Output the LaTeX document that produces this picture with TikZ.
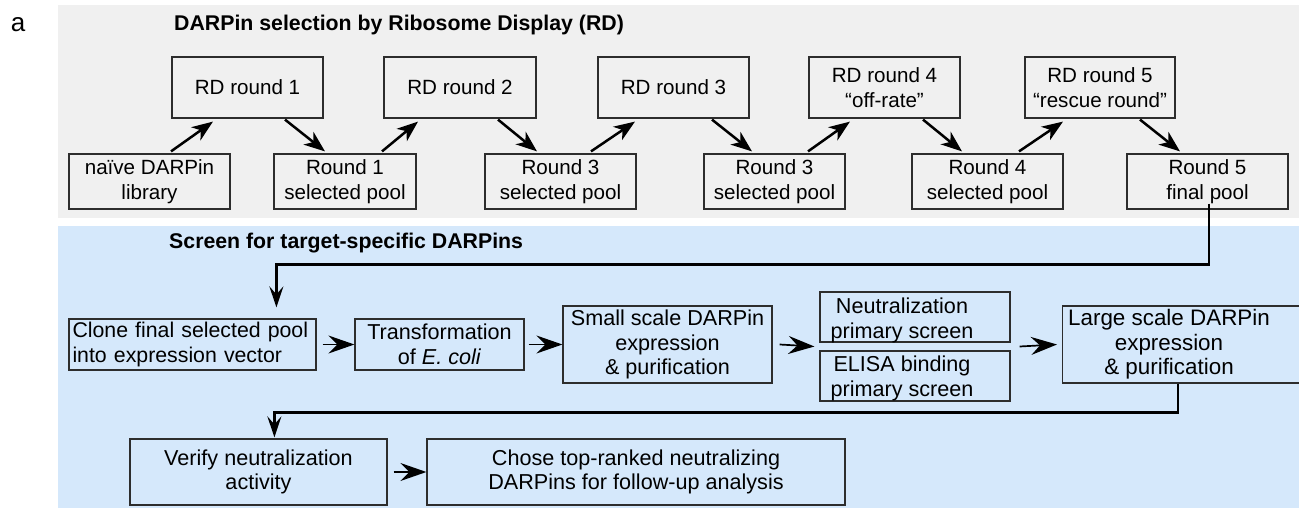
\documentclass[tikz,border=0pt]{standalone}
\usepackage{fontspec}
\setmainfont{Liberation Sans}
\usetikzlibrary{arrows.meta,calc}
\definecolor{panelgray}{RGB}{240,240,240}
\definecolor{panelblue}{RGB}{213,232,251}
\definecolor{boxline}{RGB}{45,45,45}

\begin{document}
\begin{tikzpicture}[x=1pt,y=-1pt,
  every node/.style={font=\fontsize{20.6}{24.5}\selectfont},
  lower/.style={font=\fontsize{21.6}{24.5}\selectfont},
  box/.style={draw=boxline, line width=1.2pt, inner sep=0pt, align=center},
  txt/.style={inner sep=0pt, align=center},
  heading/.style={font=\fontsize{21.3}{24.5}\selectfont\bfseries, anchor=west, inner sep=0pt},
  flow/.style={line width=2.5pt, -{Stealth[length=21pt,width=16pt,inset=6pt]}},
  hflow/.style={line width=1.7pt, -{Stealth[length=26pt,width=18pt,inset=9pt]}},
  elbow/.style={line width=2.4pt, -{Stealth[length=21pt,width=14pt,inset=8pt]}}
]
\useasboundingbox (0,0) rectangle (1299,508);

% panels
\fill[panelgray] (58,5) rectangle (1299,218);
\fill[panelblue] (58,226) rectangle (1299,508);

\node[font=\fontsize{26}{30}\selectfont] (panel) at (18,25) {a};
\node[heading] (seltitle) at (174,25) {DARPin selection by Ribosome Display (RD)};
\node[heading] (scrtitle) at (169,243) {Screen for target-specific DARPins};

% ribosome display rounds
\node[box, minimum width=151pt, minimum height=61pt] (rd1) at (247.5,87.5) {RD round 1};
\node[box, minimum width=152pt, minimum height=61pt] (rd2) at (460,87.5) {RD round 2};
\node[box, minimum width=151pt, minimum height=61pt] (rd3) at (673.5,87.5) {RD round 3};
\node[box, minimum width=151pt, minimum height=61pt] (rd4) at (884.5,87.5) {RD round 4\\“off-rate”};
\node[box, minimum width=150pt, minimum height=61pt] (rd5) at (1100,87.5) {RD round 5\\“rescue round”};

% pools
\node[box, minimum width=161pt, minimum height=55pt] (lib) at (149.5,181.5) {naïve DARPin\\library};
\node[box, minimum width=142pt, minimum height=55pt] (p1) at (345,181.5) {Round 1\\selected pool};
\node[box, minimum width=151pt, minimum height=55pt] (p2) at (560.5,181.5) {Round 3\\selected pool};
\node[box, minimum width=141pt, minimum height=55pt] (p3) at (774.5,181.5) {Round 3\\selected pool};
\node[box, minimum width=151pt, minimum height=55pt] (p4) at (987.5,181.5) {Round 4\\selected pool};
\node[box, minimum width=161pt, minimum height=55pt] (p5) at (1207.5,181.5) {Round 5\\final pool};

\draw[flow] ($(lib.north)+(21.5,-2)$) -- ($(rd1.south)+(-34.5,3)$);
\draw[flow] ($(rd1.south)+(37.5,1)$) -- ($(p1.north)+(-20,-2)$);
\draw[flow] ($(p1.north)+(37,-2)$) -- ($(rd2.south)+(-42,3)$);
\draw[flow] ($(rd2.south)+(38,1)$) -- ($(p2.north)+(-23.5,-2)$);
\draw[flow] ($(p2.north)+(30.5,-2)$) -- ($(rd3.south)+(-38.5,3)$);
\draw[flow] ($(rd3.south)+(38.5,1)$) -- ($(p3.north)+(-22.5,-2)$);
\draw[flow] ($(p3.north)+(33.5,-2)$) -- ($(rd4.south)+(-34.5,3)$);
\draw[flow] ($(rd4.south)+(38.5,1)$) -- ($(p4.north)+(-25.5,-2)$);
\draw[flow] ($(p4.north)+(31.5,-2)$) -- ($(rd5.south)+(-37,3)$);
\draw[flow] ($(rd5.south)+(40,1)$) -- ($(p5.north)+(-27.5,-2)$);

% screening steps
\node[box, font=\fontsize{21.3}{25}\selectfont, minimum width=247pt, minimum height=51pt, text width=240pt, align=left] (clone) at (192.5,344.5) {Clone final selected pool\\into expression vector};
\node[box, lower, minimum width=169pt, minimum height=51pt] (trans) at (439.5,344.5) {Transformation\\of \textit{E. coli}};
\node[box, lower, minimum width=209pt, minimum height=77pt] (small) at (667.5,344.5) {Small scale DARPin\\expression\\\& purification};
\node[box, minimum width=190pt, minimum height=50pt] (neut) at (915,317) {};
\node[txt, lower] (neuttxt) at (902,320.5) {Neutralization\\primary screen};
\node[box, minimum width=190pt, minimum height=50pt] (elisa) at (915,376) {};
\node[txt, lower] (elisatxt) at (902,378.5) {ELISA binding\\primary screen};
\node[box, minimum width=250pt, minimum height=77pt, anchor=west] (large) at (1062,344.5) {};
\node[txt, font=\fontsize{22.4}{24.5}\selectfont] (largetxt) at (1169,344.5) {Large scale DARPin\\expression\\\& purification};
\node[box, lower, minimum width=257pt, minimum height=66pt] (verify) at (258.5,472) {Verify neutralization\\activity};
\node[box, lower, minimum width=418pt, minimum height=66pt] (chose) at (636,472) {Chose top-ranked neutralizing\\DARPins for follow-up analysis};

\draw[hflow] ([xshift=6pt]clone.east) -- (trans.west);
\draw[hflow] ([xshift=4pt]trans.east) -- (small.west);
\draw[hflow] ([xshift=7pt]small.east) -- ($(neut.south west)!0.5!(elisa.north west)+(-5,0)$);
\draw[hflow] ($(neut.south east)!0.5!(elisa.north east)+(9,0)$) -- ([xshift=-5pt]large.west);
\draw[hflow] ([xshift=6pt]verify.east) -- (chose.west);

% hand-over lines between stages
\draw[elbow] ($(p5.south)+(1.5,-6)$) -- ++(0,61) -| ($(clone.north west)+(208,-11)$);
\draw[elbow] ($(large.south west)+(116,0)$) -- ++(0,29) -| ($(verify.north west)+(145,-1)$);
\end{tikzpicture}
\end{document}
